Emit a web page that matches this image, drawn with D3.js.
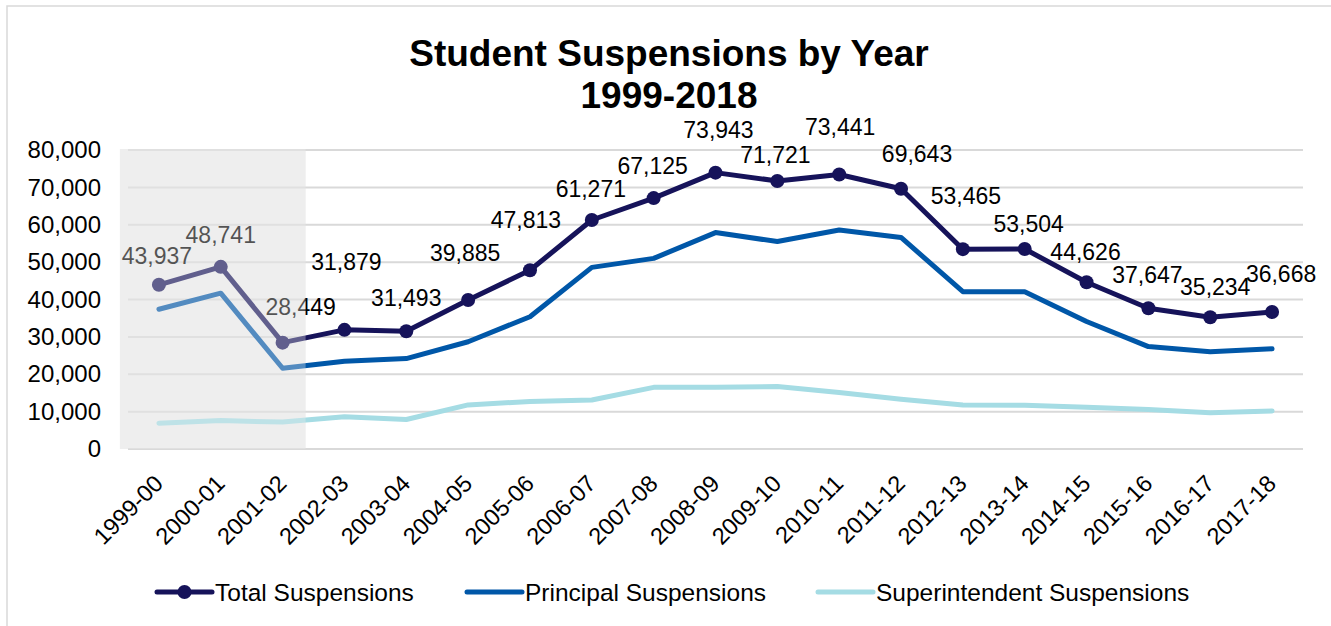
<!DOCTYPE html>
<html>
<head>
<meta charset="utf-8">
<script src="https://cdnjs.cloudflare.com/ajax/libs/d3/7.8.5/d3.min.js"></script>
<style>
  body { margin: 0; background: #fff; }
  text { font-family: "Liberation Sans", Arial, sans-serif; }
</style>
</head>
<body>
<script>
var years = ["1999-00","2000-01","2001-02","2002-03","2003-04","2004-05","2005-06","2006-07","2007-08",
             "2008-09","2009-10","2010-11","2011-12","2012-13","2013-14","2014-15","2015-16","2016-17","2017-18"];

var total = [43937, 48741, 28449, 31879, 31493, 39885, 47813, 61271, 67125,
             73943, 71721, 73441, 69643, 53465, 53504, 44626, 37647, 35234, 36668];

var principal = [37400, 41700, 21600, 23500, 24200, 28700, 35400, 48600, 51000,
                 57900, 55500, 58600, 56600, 42100, 42100, 34100, 27400, 26000, 26800];

var superintendent = [6900, 7600, 7200, 8600, 7900, 11800, 12700, 13100, 16500,
                      16500, 16700, 15100, 13300, 11800, 11700, 11200, 10600, 9700, 10200];

var yTicks = [0, 10000, 20000, 30000, 40000, 50000, 60000, 70000, 80000];

var seriesNames = ["Total Suspensions", "Principal Suspensions", "Superintendent Suspensions"];

// hand placed data labels in the original, nudge [dx, dy] from each marker
var labelOffset = [[-2,-21],[0,-24],[18,-28],[2,-60],[0,-25],[-3,-39],[-4,-42],[-1,-23],[-1,-24],
                   [3,-35],[-2,-18],[1,-40],[16,-27],[3,-45],[4,-17],[-1,-22],[-1,-25],[5,-22],[9,-30]];

var W = 1331, H = 626;
var colors = ["#16135a", "#0057a8", "#a5dce4"];

var svg = d3.select("body").append("svg")
    .attr("width", W)
    .attr("height", H);

// outer frame
svg.append("rect")
    .attr("x", 7).attr("y", 6)
    .attr("width", W).attr("height", H)
    .attr("fill", "none")
    .attr("stroke", "#d9d9d9")
    .attr("stroke-width", 1.5);

var x = d3.scalePoint()
    .domain(years)
    .range([128, 1303])
    .padding(0.5);

var y = d3.scaleLinear()
    .domain([0, 80000])
    .range([449, 150]);

var shadeX0 = x(years[0]) - 39,
    shadeX1 = x(years[2]) + 23;

// shaded period background
svg.append("rect")
    .attr("x", shadeX0).attr("y", y(80000) - 1)
    .attr("width", shadeX1 - shadeX0)
    .attr("height", y(0) - y(80000) + 1)
    .attr("fill", "#efefef");

// gridlines
svg.append("g").selectAll("line")
    .data(yTicks)
  .enter().append("line")
    .attr("x1", 128).attr("x2", 1303)
    .attr("y1", function(d) { return y(d); })
    .attr("y2", function(d) { return y(d); })
    .attr("stroke", "#d9d9d9")
    .attr("stroke-width", 2);

// y axis
var yAxis = svg.append("g")
    .attr("transform", "translate(128,0)")
    .call(d3.axisLeft(y).tickValues(yTicks).tickFormat(d3.format(",")).tickSize(0).tickPadding(27));
yAxis.select(".domain").remove();
yAxis.selectAll("text")
    .style("font-size", "24px")
    .attr("fill", "#000")
    .attr("font-family", "Liberation Sans, Arial, sans-serif");

// x axis
var xAxis = svg.append("g")
    .attr("transform", "translate(0,449)")
    .call(d3.axisBottom(x).tickSize(0));
xAxis.select(".domain").remove();
xAxis.selectAll("text")
    .attr("y", 0).attr("dy", 0)
    .attr("text-anchor", "end")
    .attr("transform", "translate(5,36) rotate(-45)")
    .style("font-size", "23.5px")
    .attr("fill", "#000")
    .attr("font-family", "Liberation Sans, Arial, sans-serif");

var line = d3.line()
    .x(function(d, i) { return x(years[i]); })
    .y(function(d) { return y(d); });

var allSeries = [total, principal, superintendent];

// draw light to dark so total sits on top
[2, 1, 0].forEach(function(k) {
  svg.append("path")
      .datum(allSeries[k])
      .attr("d", line)
      .attr("fill", "none")
      .attr("stroke", colors[k])
      .attr("stroke-width", 5)
      .attr("stroke-linejoin", "round")
      .attr("stroke-linecap", "round");
});

svg.selectAll(".dot")
    .data(total)
  .enter().append("circle")
    .attr("class", "dot")
    .attr("cx", function(d, i) { return x(years[i]); })
    .attr("cy", function(d) { return y(d); })
    .attr("r", 7)
    .attr("fill", colors[0]);

svg.selectAll(".vlabel")
    .data(total)
  .enter().append("text")
    .attr("class", "vlabel")
    .attr("x", function(d, i) { return x(years[i]) + labelOffset[i][0]; })
    .attr("y", function(d, i) { return y(d) + labelOffset[i][1]; })
    .attr("text-anchor", "middle")
    .style("font-size", "23px")
    .attr("fill", "#000")
    .text(function(d) { return d3.format(",")(d); });

// washed-out overlay over the early years
svg.append("rect")
    .attr("x", shadeX0).attr("y", y(80000) - 1)
    .attr("width", shadeX1 - shadeX0)
    .attr("height", y(0) - y(80000) + 1)
    .attr("fill", "#efefef")
    .attr("fill-opacity", 0.35);

// title
svg.append("text")
    .attr("x", 669).attr("y", 66)
    .attr("text-anchor", "middle")
    .style("font-size", "37px")
    .style("font-weight", "bold")
    .text("Student Suspensions by Year");
svg.append("text")
    .attr("x", 669).attr("y", 108)
    .attr("text-anchor", "middle")
    .style("font-size", "37px")
    .style("font-weight", "bold")
    .text("1999-2018");

// legend
var legendX = [157, 467, 818];
var legend = svg.selectAll(".legend")
    .data(seriesNames)
  .enter().append("g")
    .attr("class", "legend")
    .attr("transform", function(d, i) { return "translate(" + legendX[i] + ",592)"; });

legend.append("line")
    .attr("x1", 0).attr("x2", 55)
    .attr("stroke", function(d, i) { return colors[i]; })
    .attr("stroke-width", 5)
    .attr("stroke-linecap", "round");

legend.filter(function(d, i) { return i === 0; })
  .append("circle")
    .attr("cx", 27.5)
    .attr("r", 7)
    .attr("fill", colors[0]);

legend.append("text")
    .attr("x", 58)
    .attr("y", 0)
    .attr("dy", "0.35em")
    .style("font-size", "24.5px")
    .attr("fill", "#000")
    .text(function(d) { return d; });
</script>
</body>
</html>
